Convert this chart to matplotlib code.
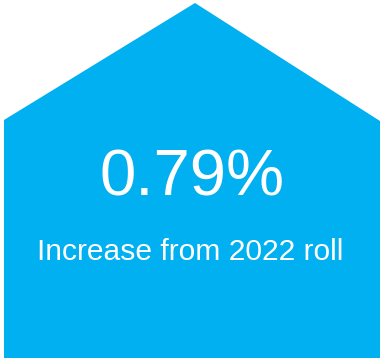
import matplotlib
matplotlib.use("Agg")
import matplotlib.pyplot as plt
from matplotlib.patches import Polygon

# Headline figure and caption
change_pct = 0.79
caption = "Increase from 2022 roll"

W, H = 383, 361
fig = plt.figure(figsize=(W / 100, H / 100), dpi=100)
ax = fig.add_axes([0, 0, 1, 1])
ax.set_xlim(0, W)
ax.set_ylim(H, 0)
ax.axis("off")

# House-shaped badge
house = [(4, 120), (195, 3), (380, 121), (380, 358), (4, 358)]
ax.add_patch(Polygon(house, closed=True, facecolor="#00b0f0", edgecolor="none"))

ax.text(192, 196, f"{change_pct:.2f}%", color="white", fontsize=47,
        family="Liberation Sans", ha="center", va="baseline")
ax.text(190.5, 260, caption, color="white", fontsize=21.6,
        family="Liberation Sans", ha="center", va="baseline")

fig.savefig("out.png", dpi=100)
